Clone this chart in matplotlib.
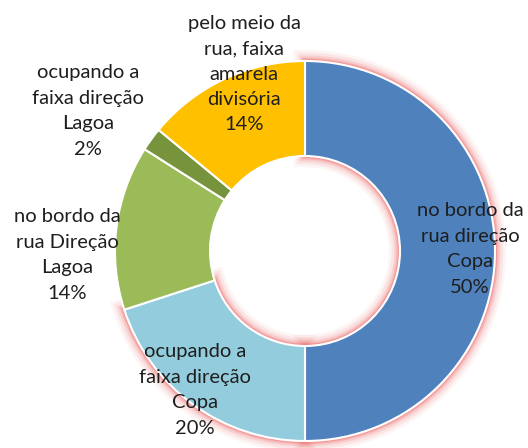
import matplotlib.pyplot as plt
import numpy as np

# === data ===
labels = [
    "no bordo da\nrua direção\nCopa\n50%",
    "ocupando a\nfaixa direção\nCopa\n20%",
    "no bordo da\nrua Direção\nLagoa\n14%",
    "ocupando a\nfaixa direção\nLagoa\n2%",
    "pelo meio da\nrua, faixa\namarela\ndivisória\n14%",
]
values = [50, 20, 14, 2, 14]
colors = ["#4f81bd", "#93cddd", "#9bbb59", "#77933c", "#ffc000"]
glow_on = [True, True, False, False, False]

# label centres in pixels (x, y from top) of the 528x448 picture
label_px = [(470, 249), (195, 390), (67, 255), (88, 111), (244, 74)]

W, H = 528, 448
R_PX = 190.0
CX, CY = 305, 251

fig = plt.figure(figsize=(W / 100, H / 100), dpi=100)
ax = fig.add_axes([0, 0, 1, 1])
ax.set_aspect("equal")
ax.axis("off")

ring = 0.5

# soft pink glow behind the selected slices
for lw, a in [(16, 0.08), (12, 0.12), (8, 0.2), (5, 0.3), (3, 0.45)]:
    wedges, _ = ax.pie(values, startangle=90, counterclock=False, radius=1.0,
                       wedgeprops=dict(width=ring, facecolor="none",
                                       edgecolor="#f07878", linewidth=lw, alpha=a))
    for w, on in zip(wedges, glow_on):
        w.set_visible(on)

ax.pie(values, colors=colors, startangle=90, counterclock=False, radius=1.0,
       wedgeprops=dict(width=ring, edgecolor="white", linewidth=1.5))
ax.set_xlim(-CX / R_PX, (W - CX) / R_PX)
ax.set_ylim(-(H - CY) / R_PX, CY / R_PX)

for lab, (px, py) in zip(labels, label_px):
    ax.text((px - CX) / R_PX, (CY - py) / R_PX, lab, ha="center", va="center",
            fontsize=14.5, family="Lato", color="#1e1e1e", linespacing=1.6)

fig.savefig("out.png", dpi=100)
